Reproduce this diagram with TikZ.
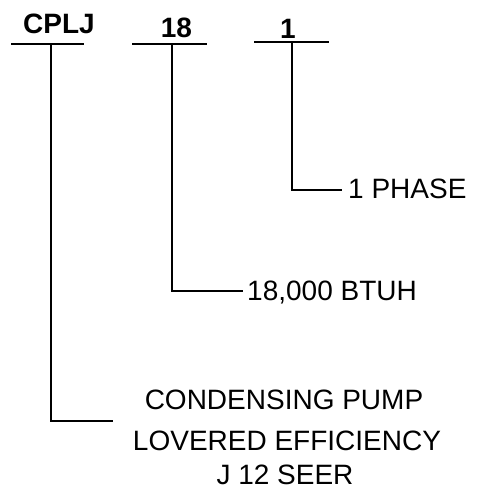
\documentclass[tikz,border=0pt]{standalone}
\usepackage{fontspec}
\setmainfont{Liberation Sans}
\begin{document}
\begin{tikzpicture}[x=1pt,y=-1pt,
  ln/.style={line width=1.7pt,line cap=rect},
  conn/.style={line width=1.5pt},
  hdr/.style={inner sep=0pt,anchor=base,font=\fontsize{28}{34}\selectfont\bfseries},
  lbl/.style={inner sep=0pt,anchor=base west,font=\fontsize{28}{34}\selectfont},
  desc/.style={inner sep=0pt,anchor=base,font=\fontsize{28}{34}\selectfont}]
\useasboundingbox (0,0) rectangle (479,491);
% headers
\node[hdr] (cplj) at (59,33) {CPLJ};
\node[hdr] (n18) at (176.5,37) {18};
\node[hdr] (n1) at (288,38) {1};
% underlines
\coordinate (cpljL) at (12,44);  \coordinate (cpljR) at (83,44);
\coordinate (n18L) at (133,44);  \coordinate (n18R) at (206,44);
\coordinate (n1L) at (255,42);   \coordinate (n1R) at (328,42);
\draw[ln] (cpljL) -- (cpljR);
\draw[ln] (n18L) -- (n18R);
\draw[ln] (n1L) -- (n1R);
% taps
\coordinate (cpljT) at (51,44);
\coordinate (n18T) at (172,44);
\coordinate (n1T) at (292,42);
% labels
\node[lbl] (phase) at (348,198) {1 PHASE};
\node[lbl] (btuh) at (247,300) {18,000 BTUH};
\node[desc] (d1) at (284,409) {CONDENSING PUMP};
\node[desc] (d2) at (287,450) {LOVERED EFFICIENCY};
\node[desc] (d3) at (285,484) {J 12 SEER};
% connector ends
\coordinate (phaseE) at (342,190);
\coordinate (btuhE) at (243,291);
\coordinate (cpljE) at (113,421);
\draw[conn] (n1T) |- (phaseE);
\draw[conn] (n18T) |- (btuhE);
\draw[conn] (cpljT) |- (cpljE);
\end{tikzpicture}
\end{document}
